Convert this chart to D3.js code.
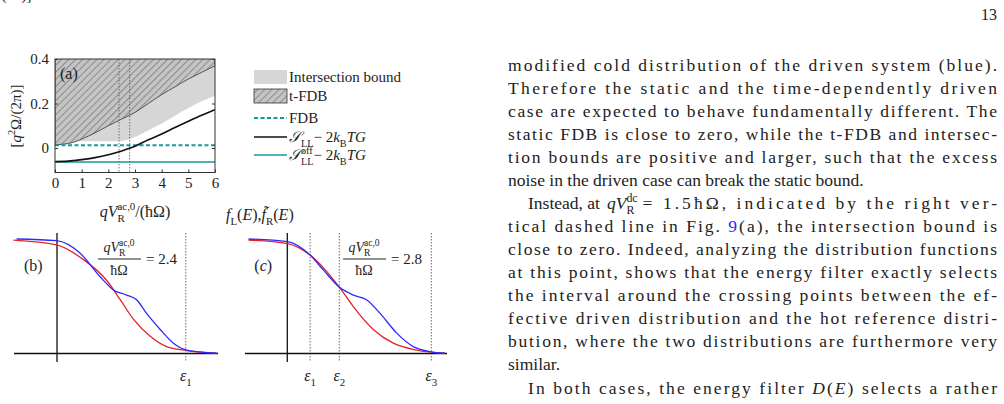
<!DOCTYPE html>
<html><head><meta charset="utf-8">
<script src="https://cdn.jsdelivr.net/npm/d3@7"></script>
<style>
body{margin:0;background:#fff}
svg text{font-family:"Liberation Serif","DejaVu Serif",serif;fill:#222}
</style></head><body>
<svg id="page" width="1004" height="404"></svg>
<script>
// panel (a) data, x = qV/(hbar Omega)
const xA = [0, 0.5, 1, 1.5, 2, 2.5, 3, 3.5, 4, 4.5, 5, 5.5, 6];
const sLL = [-0.061, -0.059, -0.052, -0.043, -0.03, -0.013, 0.008, 0.037, 0.063, 0.092, 0.12, 0.147, 0.172];
const tFdbLow = [0.015, 0.02, 0.04, 0.068, 0.1, 0.13, 0.16, 0.2, 0.24, 0.275, 0.31, 0.34, 0.37];
const interLow = [0.015, 0.022, 0.03, 0.03, 0.03, 0.032, 0.05, 0.08, 0.11, 0.145, 0.18, 0.21, 0.235];
const fdb = 0.012, sOff = -0.063;
const vLines = [2.4, 2.8];
const yTicks = [0, 0.2, 0.4], xTicks = [0, 1, 2, 3, 4, 5, 6];

// panels (b),(c): energy E and distributions
const Eb = [-1.09, -0.01, 0.66, 1.24, 1.58, 1.91, 2.33, 2.74, 3.24, 3.99];
const fLb = [0.99, 0.948, 0.82, 0.64, 0.47, 0.30, 0.15, 0.06, 0.026, 0.003];
const EbB = [-1.01, -0.01, 0.58, 1.08, 1.41, 1.74, 1.99, 2.24, 2.58, 2.91, 3.24, 3.99];
const fRb = [1.0, 0.985, 0.875, 0.67, 0.555, 0.51, 0.47, 0.35, 0.21, 0.09, 0.03, 0.003];
const Ec = [-0.97, 0, 0.57, 1.3, 1.65, 2.15, 2.65, 3.23, 3.94];
const fLc = [0.99, 0.96, 0.86, 0.58, 0.41, 0.21, 0.09, 0.03, 0.003];
const EcB = [-0.97, 0, 0.57, 0.9, 1.3, 1.65, 1.98, 2.32, 2.73, 3.15, 3.56, 3.94];
const fRc = [1.0, 0.977, 0.86, 0.73, 0.58, 0.51, 0.47, 0.35, 0.18, 0.06, 0.017, 0.003];
const epsB = [3.22], epsC = [0.57, 1.3, 3.6];

const svg = d3.select("#page");
const teal = "#17999a";

// write pieces one after another; each piece [text, opts]; sup+sub stack at same x
function mathText(parent, x, y, size, pieces, anchor) {
  const g = parent.append("g");
  let cx = 0, lastW = 0;
  pieces.forEach(([t, o = {}]) => {
    const fs = o.sub || o.sup ? size * 0.68 : size;
    const dy = o.sub ? size * 0.3 : o.sup ? -size * 0.42 : 0;
    const px = o.stack ? cx - lastW : cx;
    const el = g.append("text").attr("x", px).attr("y", dy).attr("font-size", fs)
      .attr("font-style", o.it ? "italic" : null).attr("fill", o.fill || null).text(t);
    const w = el.node().getComputedTextLength();
    if (o.stack) cx = Math.max(cx, px + w); else cx = px + w;
    lastW = w;
  });
  const dx = anchor === "middle" ? -cx / 2 : anchor === "end" ? -cx : 0;
  g.attr("transform", `translate(${x + dx},${y})`);
  return g;
}

// ---- panel (a)
const x = d3.scaleLinear().domain([0, 6]).range([55, 215]);
const y = d3.scaleLinear().domain([-0.11, 0.4]).range([172.5, 59]);
const defs = svg.append("defs");
const pat = defs.append("pattern").attr("id", "hatch").attr("patternUnits", "userSpaceOnUse")
  .attr("width", 5).attr("height", 5).attr("patternTransform", "rotate(45)");
pat.append("rect").attr("width", 5).attr("height", 5).attr("fill", "#c4c4c4");
pat.append("line").attr("x1", 0).attr("y1", 0).attr("x2", 0).attr("y2", 5).attr("stroke", "#333").attr("stroke-width", 0.8);
defs.append("clipPath").attr("id", "clipA").append("rect")
  .attr("x", x(0)).attr("y", y(0.4)).attr("width", x(6) - x(0)).attr("height", y(-0.11) - y(0.4));

const g = svg.append("g").attr("clip-path", "url(#clipA)");
const idx = d3.range(xA.length);
g.append("path").datum(idx).attr("fill", "#d6d6d6")
  .attr("d", d3.area().x(i => x(xA[i])).y0(i => y(interLow[i])).y1(i => y(tFdbLow[i])).curve(d3.curveMonotoneX));
g.append("path").datum(idx).attr("fill", "url(#hatch)").attr("stroke", "#333").attr("stroke-width", 0.8)
  .attr("d", d3.area().x(i => x(xA[i])).y0(i => y(tFdbLow[i])).y1(y(0.45)).curve(d3.curveMonotoneX));
g.selectAll(".vl").data(vLines).join("line").attr("x1", d => x(d)).attr("x2", d => x(d))
  .attr("y1", y(0.4)).attr("y2", y(-0.11)).attr("stroke", "#555").attr("stroke-width", 0.8).attr("stroke-dasharray", "1.5,1.5");
g.append("line").attr("x1", x(0)).attr("x2", x(6)).attr("y1", y(sOff)).attr("y2", y(sOff)).attr("stroke", teal).attr("stroke-width", 1.5);
g.append("line").attr("x1", x(0)).attr("x2", x(6)).attr("y1", y(fdb)).attr("y2", y(fdb)).attr("stroke", teal).attr("stroke-width", 2).attr("stroke-dasharray", "4,2.5");
g.append("path").datum(idx).attr("fill", "none").attr("stroke", "#111").attr("stroke-width", 1.6)
  .attr("d", d3.line().x(i => x(xA[i])).y(i => y(sLL[i])).curve(d3.curveMonotoneX));
svg.append("rect").attr("x", x(0)).attr("y", y(0.4)).attr("width", x(6) - x(0)).attr("height", y(-0.11) - y(0.4))
  .attr("fill", "none").attr("stroke", "#333").attr("stroke-width", 1);
const serif = '"Liberation Serif","DejaVu Serif",serif';
svg.append("g").attr("transform", `translate(0,${y(-0.11)})`)
  .call(d3.axisBottom(x).tickValues(xTicks).tickSize(-3).tickPadding(5).tickFormat(d3.format("d")))
  .call(a => a.select(".domain").remove()).attr("font-family", serif).attr("font-size", 15);
svg.append("g").attr("transform", `translate(${x(0)},0)`)
  .call(d3.axisLeft(y).tickValues(yTicks).tickSize(-3).tickPadding(6).tickFormat(d => d === 0 ? "0" : d3.format(".1f")(d)))
  .call(a => a.select(".domain").remove()).attr("font-family", serif).attr("font-size", 15);
svg.append("g").attr("transform", `translate(${x(6)},0)`)
  .call(d3.axisRight(y).tickValues(yTicks).tickSize(-3).tickFormat(""))
  .call(a => a.select(".domain").remove());
svg.selectAll(".tick line").attr("stroke", "#333");
svg.selectAll(".tick text").attr("fill", "#333");
svg.append("text").attr("x", 60).attr("y", 79).attr("font-size", 16).text("(a)");
mathText(svg, 0, 0, 15, [["[", {}], ["q", { it: 1 }], ["2", { sup: 1 }], ["Ω/(2π)]", {}]], "middle")
  .attr("transform", function () { return this.getAttribute("transform") + " "; });
// rotate y label
{
  const yl = svg.append("g").attr("transform", "translate(21,116) rotate(-90)");
  mathText(yl, 0, 0, 15, [["[", {}], ["q", { it: 1 }], ["2", { sup: 1 }], ["Ω/(2π)]", {}]], "middle");
}
svg.select("g:last-of-type");
mathText(svg, 135, 217, 16, [["qV", { it: 1 }], ["ac,0", { sup: 1 }], ["R", { sub: 1, stack: 1 }], ["/(ħΩ)", {}]], "middle");

// legend
const lg = svg.append("g").attr("font-size", 15);
lg.append("rect").attr("x", 254).attr("y", 70).attr("width", 33).attr("height", 14).attr("fill", "#d6d6d6");
lg.append("text").attr("x", 289).attr("y", 82).text("Intersection bound");
lg.append("rect").attr("x", 254).attr("y", 89).attr("width", 33).attr("height", 14).attr("fill", "url(#hatch)").attr("stroke", "#333").attr("stroke-width", 0.8);
lg.append("text").attr("x", 289).attr("y", 101).text("t-FDB");
lg.append("line").attr("x1", 254).attr("x2", 287).attr("y1", 118).attr("y2", 118).attr("stroke", teal).attr("stroke-width", 2).attr("stroke-dasharray", "4,2.5");
lg.append("text").attr("x", 289).attr("y", 123).text("FDB");
lg.append("line").attr("x1", 254).attr("x2", 287).attr("y1", 137).attr("y2", 137).attr("stroke", "#111").attr("stroke-width", 1.6);
mathText(lg, 289, 142, 15, [["𝒮", { it: 1 }], ["LL", { sub: 1 }], [" − 2", {}], ["k", { it: 1 }], ["B", { sub: 1 }], ["TG", { it: 1 }]]);
lg.append("line").attr("x1", 254).attr("x2", 287).attr("y1", 155).attr("y2", 155).attr("stroke", teal).attr("stroke-width", 1.5);
mathText(lg, 289, 160, 15, [["𝒮", { it: 1 }], ["off", { sup: 1 }], ["LL", { sub: 1, stack: 1 }], [" − 2", {}], ["k", { it: 1 }], ["B", { sub: 1 }], ["TG", { it: 1 }]]);

const red = "#e8202a", blue = "#2a2aff";
mathText(svg, 226, 220, 16, [["f", { it: 1, fill: red }], ["L", { sub: 1, fill: red }], ["(", { fill: red }], ["E", { it: 1, fill: red }], [")", { fill: red }],
  [", ", {}], ["f̃", { it: 1, fill: blue }], ["R", { sub: 1, fill: blue }], ["(", { fill: blue }], ["E", { it: 1, fill: blue }], [")", { fill: blue }]]);

// ---- panels (b),(c)
const yF = d3.scaleLinear().domain([0, 1]).range([353.5, 239]);
function dist(x0, xmin, xmax, EL, fL, ER, fR, eps, lab, val, fracX) {
  const xs = d3.scaleLinear().domain([0, 4]).range([x0, x0 + 160]);
  const p = svg.append("g");
  p.selectAll(".eps").data(eps).join("line").attr("x1", d => xs(d)).attr("x2", d => xs(d))
    .attr("y1", 233).attr("y2", 362).attr("stroke", "#444").attr("stroke-width", 0.8).attr("stroke-dasharray", "1.5,1.5");
  p.append("line").attr("x1", xmin).attr("x2", xmax).attr("y1", yF(0)).attr("y2", yF(0)).attr("stroke", "#111").attr("stroke-width", 1.3);
  p.append("line").attr("x1", xs(0)).attr("x2", xs(0)).attr("y1", 233).attr("y2", 362).attr("stroke", "#111").attr("stroke-width", 1.3);
  p.append("path").datum(d3.range(EL.length)).attr("fill", "none").attr("stroke", red).attr("stroke-width", 1.3)
    .attr("d", d3.line().x(i => xs(EL[i])).y(i => yF(fL[i])).curve(d3.curveMonotoneX));
  p.append("path").datum(d3.range(ER.length)).attr("fill", "none").attr("stroke", blue).attr("stroke-width", 1.3)
    .attr("d", d3.line().x(i => xs(ER[i])).y(i => yF(fR[i])).curve(d3.curveMonotoneX));
  eps.forEach((d, i) => mathText(p, xs(d), 381, 16, [["ε", { it: 1 }], [String(i + 1), { sub: 1 }]], "middle"));
  mathText(p, x0 - 33, 271, 16, lab);
  mathText(p, fracX + 21, 252, 14, [["qV", { it: 1 }], ["ac,0", { sup: 1 }], ["R", { sub: 1, stack: 1 }]], "middle");
  p.append("line").attr("x1", fracX).attr("x2", fracX + 43).attr("y1", 259).attr("y2", 259).attr("stroke", "#222");
  p.append("text").attr("x", fracX + 21).attr("y", 275).attr("text-anchor", "middle").attr("font-size", 14).text("ħΩ");
  p.append("text").attr("x", fracX + 48).attr("y", 264).attr("font-size", 15).text("= " + val);
}
dist(57, 14, 218, Eb, fLb, EbB, fRb, epsB, [["(b)", {}]], "2.4", 98);
dist(287.3, 245, 447, Ec, fLc, EcB, fRc, epsC, [["(", {}], ["c", { it: 1 }], [")", {}]], "2.8", 343);

// ---- body text
svg.append("text").attr("x", 997).attr("y", 20).attr("text-anchor", "end").attr("font-size", 16).text("13");
const lines = [
  ["modified cold distribution of the driven system (blue).", 508, true],
  ["Therefore the static and the time-dependently driven", 508, true],
  ["case are expected to behave fundamentally different. The", 508, true],
  ["static FDB is close to zero, while the t-FDB and intersec-", 508, true],
  ["tion bounds are positive and larger, such that the excess", 508, true],
  ["noise in the driven case can break the static bound.", 508, false],
  [null, 528, true],
  ['tical dashed line in Fig. <tspan fill="#2a2aff">9</tspan>(a), the intersection bound is', 508, true],
  ["close to zero. Indeed, analyzing the distribution functions", 508, true],
  ["at this point, shows that the energy filter exactly selects", 508, true],
  ["the interval around the crossing points between the ef-", 508, true],
  ["fective driven distribution and the hot reference distri-", 508, true],
  ["bution, where the two distributions are furthermore very", 508, true],
  ["similar.", 508, false],
  ['In both cases, the energy filter <tspan font-style="italic">D</tspan>(<tspan font-style="italic">E</tspan>) selects a rather', 528, true]
];
const ys = [71, 94, 117, 140, 163, 186, 209, 232, 255, 278, 301, 324, 347, 370, 394];
lines.forEach((l, i) => {
  if (!l[0]) return;
  const t = svg.append("text").attr("x", l[1]).attr("y", ys[i]).attr("font-size", 17.5).html(l[0]);
  if (l[2]) t.attr("textLength", 997 - l[1]).attr("lengthAdjust", "spacing");
});
// line with math: left part, math, right part justified
{
  const left = svg.append("text").attr("x", 528).attr("y", ys[6]).attr("font-size", 17.5).text("Instead, at");
  const lw = left.node().getComputedTextLength();
  const m = mathText(svg, 528 + lw + 7, ys[6], 17.5, [["qV", { it: 1 }], ["dc", { sup: 1 }], ["R", { sub: 1, stack: 1 }]]);
  const mw = m.node().getBBox().width;
  const sx = 528 + lw + 7 + mw + 5;
  svg.append("text").attr("x", sx).attr("y", ys[6]).attr("font-size", 17.5)
    .attr("textLength", 997 - sx).attr("lengthAdjust", "spacing").text("= 1.5ħΩ, indicated by the right ver-");
}
</script></body></html>
